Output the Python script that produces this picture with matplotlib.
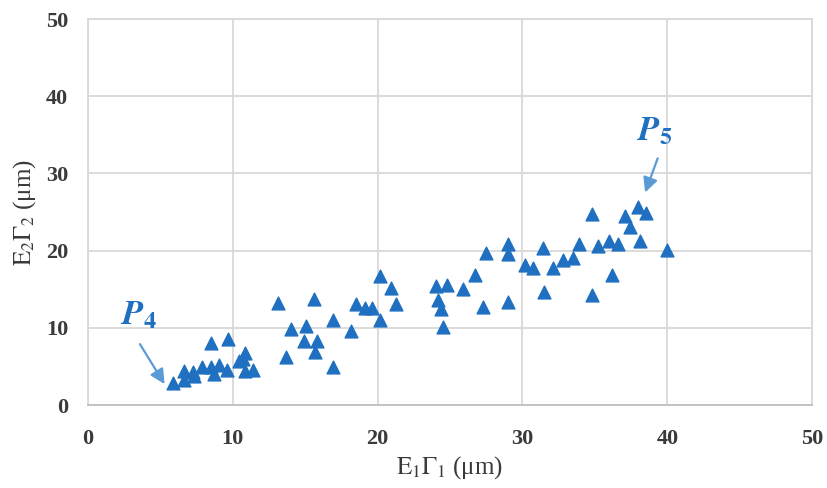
import numpy as np
import matplotlib.pyplot as plt

# E1G1 (x) and E2G2 (y) in micrometres
e1g1 = [5.9, 6.67, 6.67, 7.24, 7.3, 7.9, 8.5, 8.7, 9.07, 9.6,
        8.5, 9.7, 10.45, 10.7, 10.86, 10.86, 11.4,
        13.1, 15.6, 14.0, 15.07, 16.9, 18.2, 14.9, 15.8, 15.7, 13.65, 16.9,
        18.5, 19.1, 19.65, 20.2, 20.2, 20.9, 21.3,
        24.0, 24.8, 25.9, 24.2, 24.4, 24.5, 26.7, 27.3, 27.5,
        29.0, 29.0, 29.0, 30.2, 30.7, 31.4, 31.5, 32.1, 32.8, 33.5, 33.9,
        34.8, 34.8, 35.2, 36.0, 36.6, 36.2, 37.1, 37.4, 38.0, 38.5, 38.1, 40.0]
e2g2 = [2.9, 3.3, 4.4, 4.3, 3.8, 4.9, 4.9, 4.0, 5.2, 4.6,
        8.0, 8.5, 5.7, 5.9, 6.7, 4.4, 4.6,
        13.2, 13.7, 9.8, 10.2, 11.0, 9.6, 8.3, 8.3, 6.9, 6.25, 4.95,
        13.1, 12.6, 12.6, 11.0, 16.7, 15.1, 13.1,
        15.4, 15.6, 15.0, 13.6, 12.5, 10.1, 16.9, 12.7, 19.7,
        20.9, 19.5, 13.4, 18.2, 17.7, 20.3, 14.6, 17.7, 18.8, 19.1, 20.8,
        24.8, 14.2, 20.6, 21.3, 20.9, 16.9, 24.5, 23.1, 25.6, 24.9, 21.3, 20.05]

ticks = [0, 10, 20, 30, 40, 50]

plt.rcParams['font.family'] = ['Liberation Serif', 'DejaVu Serif']
plt.rcParams['mathtext.fontset'] = 'stix'

fig = plt.figure(figsize=(8.28, 4.88), dpi=100)
ax = fig.add_axes([0.106, 0.170, 0.875, 0.791])

ax.scatter(e1g1, e2g2, marker='^', s=85, color='#1F70C1', zorder=3)

ax.set_xlim(0, 50)
ax.set_ylim(0, 50)
ax.set_xticks(ticks)
ax.set_yticks(ticks)
ax.grid(True, color='#D9D9D9', linewidth=1.3)
ax.set_axisbelow(True)
for s in ax.spines.values():
    s.set_color('#D9D9D9')
    s.set_linewidth(1.3)
ax.spines['bottom'].set_color('#BFBFBF')
ax.tick_params(length=0, labelsize=16, labelcolor='#3A3A3A', pad=14)
for lab in ax.get_xticklabels() + ax.get_yticklabels():
    lab.set_fontweight('bold')
ax.tick_params(axis='x', pad=17)

ax.set_xlabel(r'$\mathrm{E}_1\Gamma_1$ (μm)', fontsize=18, color='#3A3A3A', labelpad=4)
ax.set_ylabel(r'$\mathrm{E}_2\Gamma_2$ (μm)', fontsize=18, color='#3A3A3A', labelpad=6)

# point labels with arrows
arrow = dict(arrowstyle='-|>', color='#5B9BD5', lw=1.6, mutation_scale=22)
ax.annotate('', xy=(5.4, 2.4), xytext=(3.5, 8.2), arrowprops=arrow)
ax.annotate('', xy=(38.4, 27.2), xytext=(39.4, 32.3), arrowprops=arrow)
ax.text(2.3, 10.5, r'$\boldsymbol{P}_{\mathbf{4}}$', fontsize=25, color='#1F70C1')
ax.text(37.9, 34.3, r'$\boldsymbol{P}_{\mathbf{5}}$', fontsize=25, color='#1F70C1')

fig.savefig('out.png', dpi=100)
